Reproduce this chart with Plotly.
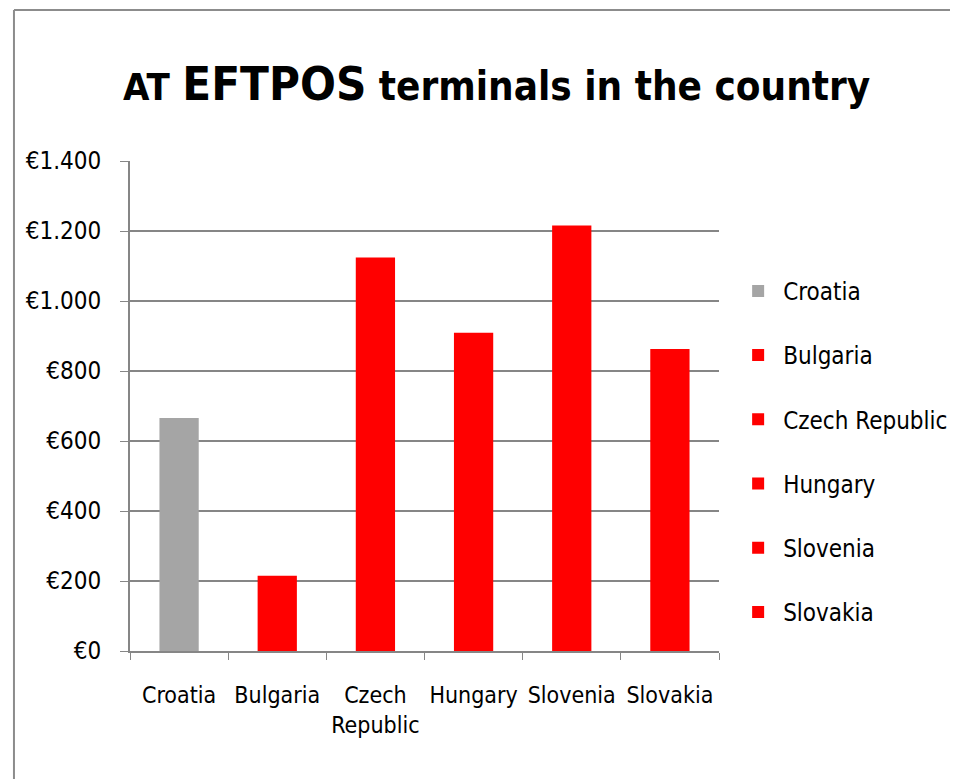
"""AT EFTPOS terminals bar chart."""

import plotly.graph_objects as go

countries = ["Croatia", "Bulgaria", "Czech Republic", "Hungary", "Slovenia", "Slovakia"]
tick_labels = ["Croatia", "Bulgaria", "Czech<br>Republic", "Hungary", "Slovenia", "Slovakia"]
values = [666, 215, 1124, 909, 1216, 863]
colors = ["#a5a5a5", "#ff0000", "#ff0000", "#ff0000", "#ff0000", "#ff0000"]
y_ticks = [0, 200, 400, 600, 800, 1000, 1200, 1400]

FONT = "DejaVu Sans Condensed"
EURO = "\u20ac"
# euro prefix, dot as thousands separator
y_tick_text = [EURO + f"{v:,}".replace(",", ".") for v in y_ticks]

fig = go.Figure()
for name, val, col in zip(countries, values, colors):
    fig.add_trace(go.Bar(
        x=[name],
        y=[val],
        name=name,
        legendgroup=name,
        marker=dict(color=col, line=dict(width=0)),
        width=0.4,
    ))

fig.update_layout(
    width=958,
    height=779,
    barmode="overlay",
    paper_bgcolor="white",
    plot_bgcolor="white",
    margin=dict(l=122, r=247, t=153, b=136),
    font=dict(family=FONT, size=23, color="black"),
    title=dict(
        text=("<b><span style='font-size:38px'>AT</span> "
              "<span style='font-size:47px'>EFTPOS</span> terminals in the country</b>"),
        x=0.51,
        xanchor="center",
        y=0.9,
        yanchor="middle",
        font=dict(family=FONT, size=40, color="black"),
    ),
    legend=dict(
        x=1.024,
        y=0.780,
        xanchor="left",
        yanchor="top",
        tracegroupgap=30,
        font=dict(family=FONT, size=24),
        itemwidth=40,
    ),
    showlegend=True,
    shapes=[
        dict(type="line", xref="paper", yref="paper",
             x0=-0.197, x1=1.45, y0=1.308, y1=1.308,
             line=dict(color="#8c8c8c", width=2)),
        dict(type="line", xref="paper", yref="paper",
             x0=-0.197, x1=-0.197, y0=1.308, y1=-0.3,
             line=dict(color="#8c8c8c", width=2)),
    ],
)

fig.update_xaxes(
    tickvals=countries,
    ticktext=tick_labels,
    tickangle=0,
    tickfont=dict(size=23),
    showline=True,
    linecolor="#868686",
    linewidth=2,
    ticks="outside",
    tickson="boundaries",
    tickcolor="#868686",
    ticklen=7,
    tickwidth=1,
    ticklabelstandoff=22,
    showgrid=False,
)

fig.update_yaxes(
    range=[0, 1400],
    tickvals=y_ticks,
    ticktext=y_tick_text,
    tickfont=dict(size=24),
    showline=True,
    linecolor="#868686",
    linewidth=2,
    ticks="outside",
    tickcolor="#868686",
    ticklen=8,
    ticklabelstandoff=14,
    showgrid=True,
    gridcolor="#868686",
    gridwidth=2,
    zeroline=False,
)

fig.write_html("out.html")
